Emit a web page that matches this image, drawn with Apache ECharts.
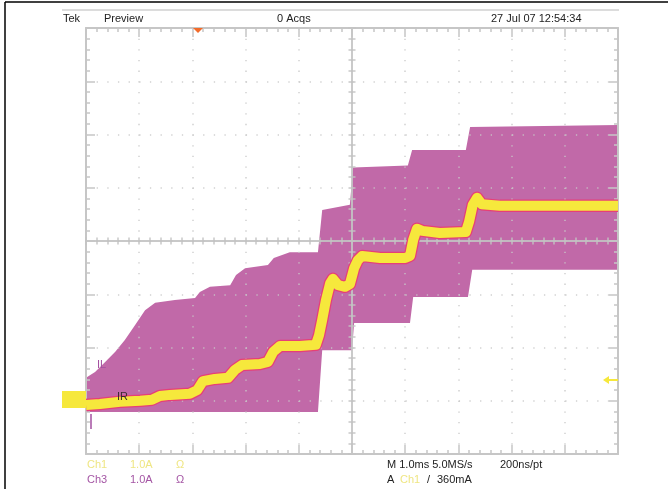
<!DOCTYPE html>
<html>
<head>
<meta charset="utf-8">
<title>Tek Preview</title>
<script src="https://cdn.jsdelivr.net/npm/echarts@6/dist/echarts.min.js"></script>
<style>
  html, body { margin: 0; padding: 0; background: #fff; }
  #scope { width: 668px; height: 489px; }
</style>
</head>
<body>
<div id="scope"></div>
<script>
// screen units: x = time in divisions (1.0 ms/div, 0 = centre), y = divisions (1.0 A/div)
const ch1Time = [-5, -4.74, -4.36, -3.98, -3.76, -3.61, -3.42, -3.05, -2.91, -2.80, -2.58, -2.33, -2.20, -2.07,
  -1.73, -1.58, -1.48, -1.35, -0.98, -0.68, -0.62, -0.56, -0.49, -0.41, -0.36, -0.26, -0.13, -0.04,
  0.04, 0.11, 0.19, 0.53, 1.00, 1.09, 1.15, 1.22, 1.32, 1.65, 2.14, 2.20, 2.27, 2.35, 2.44, 2.78, 3.53, 5]
const ch1Level = [-3.08, -3.06, -3.02, -3.00, -2.98, -2.91, -2.89, -2.87, -2.80, -2.63, -2.59, -2.57, -2.42, -2.33,
  -2.31, -2.27, -2.08, -1.97, -1.97, -1.95, -1.77, -1.48, -1.11, -0.79, -0.71, -0.83, -0.86, -0.81,
  -0.51, -0.36, -0.28, -0.32, -0.32, -0.28, 0.02, 0.23, 0.19, 0.15, 0.17, 0.36, 0.68, 0.81, 0.69, 0.66, 0.66, 0.66]

// Ch3 ripple envelope (top and bottom edge of the band)
const ch3TopTime = [-5, -4.83, -4.64, -4.45, -4.27, -4.08, -3.89, -3.70, -3.33, -2.95, -2.86, -2.67, -2.29, -2.18,
  -2.01, -1.58, -1.47, -1.17, -0.64, -0.56, -0.04, 0.02, 1.05, 1.13, 2.14, 2.22, 5]
const ch3Top = [-2.57, -2.46, -2.27, -2.08, -1.86, -1.58, -1.30, -1.16, -1.11, -1.07, -0.96, -0.86, -0.83, -0.64,
  -0.51, -0.45, -0.32, -0.21, -0.21, 0.58, 0.68, 1.38, 1.42, 1.71, 1.71, 2.14, 2.18]
const ch3BotTime = [-5, -0.64, -0.56, 0.0, 0.04, 1.09, 1.15, 2.18, 2.26, 5]
const ch3Bot = [-3.21, -3.21, -2.05, -2.05, -1.54, -1.54, -1.05, -1.05, -0.54, -0.54]

const yellow = '#f6e83c'
const purple = '#c169a8'
const gridGray = '#c6c6c6'
const dotGray = 'rgba(200,200,200,0.85)'
const font = '11px "Liberation Sans", Arial, sans-serif'

const chart = echarts.init(document.getElementById('scope'))

const borderAxis = (pos, gridIndex, split) => ({
  type: 'value', gridIndex: gridIndex, position: pos, min: pos === 'left' || pos === 'right' ? -4 : -5,
  max: pos === 'left' || pos === 'right' ? 4 : 5, interval: 1, z: 2,
  axisLine: { show: true, onZero: false, lineStyle: { color: gridGray, width: 2 } },
  axisTick: { show: true, inside: true, length: 9, lineStyle: { color: gridGray, width: 1.5 } },
  minorTick: { show: true, splitNumber: 5, length: 4, lineStyle: { color: gridGray, width: 1.5 } },
  axisLabel: { show: false },
  splitLine: { show: split, lineStyle: { color: dotGray, width: 1.5, type: [1.3, 9.35] } }
})

const centreAxis = (pos) => ({
  type: 'value', gridIndex: 1, position: pos, min: pos === 'left' || pos === 'right' ? -4 : -5,
  max: pos === 'left' || pos === 'right' ? 4 : 5, interval: 1, z: 2,
  axisLine: { show: true, onZero: true, onZeroAxisIndex: 2, lineStyle: { color: 'rgba(195,195,195,0.9)', width: 1.5 } },
  axisTick: { show: true, inside: true, length: 3.5, lineStyle: { color: 'rgba(195,195,195,0.9)', width: 1.5 } },
  minorTick: { show: true, splitNumber: 5, length: 3.5, lineStyle: { color: 'rgba(195,195,195,0.9)', width: 1.5 } },
  axisLabel: { show: false },
  splitLine: { show: false }
})

const txt = (text, x, y, fill, extra) => Object.assign({
  type: 'text', z: 20, style: { text: text, x: x, y: y, fill: fill, font: font, verticalAlign: 'middle' }
}, extra || {})

const option = {
  animation: false,
  backgroundColor: '#fff',
  grid: [
    { left: 86, top: 28, width: 532, height: 426, show: false },
    { left: 86, top: 28, width: 532, height: 426, show: false }
  ],
  xAxis: [borderAxis('bottom', 0, true), borderAxis('top', 0, false), centreAxis('bottom'), centreAxis('top')],
  yAxis: [borderAxis('left', 0, true), borderAxis('right', 0, false), centreAxis('left'), centreAxis('right')],
  series: [
    {
      name: 'Ch3',
      type: 'custom',
      xAxisIndex: 0,
      yAxisIndex: 0,
      z: 1,
      clip: true,
      data: [[0, 0]],
      renderItem: function (params, api) {
        const pts = []
        for (let i = 0; i < ch3TopTime.length; i++) pts.push(api.coord([ch3TopTime[i], ch3Top[i]]))
        for (let i = ch3BotTime.length - 1; i >= 0; i--) pts.push(api.coord([ch3BotTime[i], ch3Bot[i]]))
        return { type: 'polygon', shape: { points: pts }, style: { fill: purple } }
      }
    },
    {
      name: 'Ch1 edge',
      type: 'line',
      xAxisIndex: 0,
      yAxisIndex: 0,
      z: 3,
      showSymbol: false,
      data: ch1Time.map((t, i) => [t, ch1Level[i]]),
      lineStyle: { color: '#e63f78', width: 12.5, join: 'round', cap: 'butt' }
    },
    {
      name: 'Ch1',
      type: 'line',
      xAxisIndex: 0,
      yAxisIndex: 0,
      z: 4,
      showSymbol: false,
      data: ch1Time.map((t, i) => [t, ch1Level[i]]),
      lineStyle: { color: yellow, width: 10, join: 'round', cap: 'butt' }
    }
  ],
  graphic: [
    { type: 'line', z: 20, shape: { x1: 5, y1: 2, x2: 668, y2: 2 }, style: { stroke: '#000', lineWidth: 1.5 } },
    { type: 'line', z: 20, shape: { x1: 5, y1: 2, x2: 5, y2: 489 }, style: { stroke: '#000', lineWidth: 1.5 } },
    { type: 'line', z: 20, shape: { x1: 62, y1: 10, x2: 619, y2: 10 }, style: { stroke: '#dcdcdc', lineWidth: 2 } },
    txt('Tek', 63, 19, '#222'),
    txt('Preview', 104, 19, '#222'),
    txt('0 Acqs', 277, 19, '#222'),
    txt('27 Jul 07 12:54:34', 491, 19, '#222'),
    { type: 'polygon', z: 21, shape: { points: [[193, 28], [203, 28], [198, 33]] }, style: { fill: '#f26b2a' } },
    // channel 1 ground marker
    { type: 'rect', z: 21, shape: { x: 62, y: 391, width: 24, height: 17 }, style: { fill: yellow } },
    txt('1', 73, 399, '#f9f3a8'),
    txt('IL', 97, 365, '#a350a0'),
    txt('IR', 117, 397, '#3a2a30'),
    { type: 'line', z: 21, shape: { x1: 91, y1: 414, x2: 91, y2: 429 }, style: { stroke: '#a350a0', lineWidth: 1.5 } },
    // trigger level arrow
    { type: 'polygon', z: 21, shape: { points: [[603, 380], [609, 376], [609, 384]] }, style: { fill: yellow } },
    { type: 'line', z: 21, shape: { x1: 608, y1: 380, x2: 618, y2: 380 }, style: { stroke: yellow, lineWidth: 2 } },
    // readouts
    txt('Ch1', 87, 465, '#efe683'),
    txt('1.0A', 130, 465, '#efe683'),
    txt('Ω', 176, 465, '#efe683'),
    txt('Ch3', 87, 480, '#a455a4'),
    txt('1.0A', 130, 480, '#a455a4'),
    txt('Ω', 176, 480, '#a455a4'),
    txt('M 1.0ms 5.0MS/s', 387, 465, '#222'),
    txt('200ns/pt', 500, 465, '#222'),
    txt('A', 387, 480, '#222'),
    txt('Ch1', 400, 480, '#efe683'),
    txt('/', 427, 480, '#222'),
    txt('360mA', 437, 480, '#222')
  ]
}

chart.setOption(option)
</script>
</body>
</html>
